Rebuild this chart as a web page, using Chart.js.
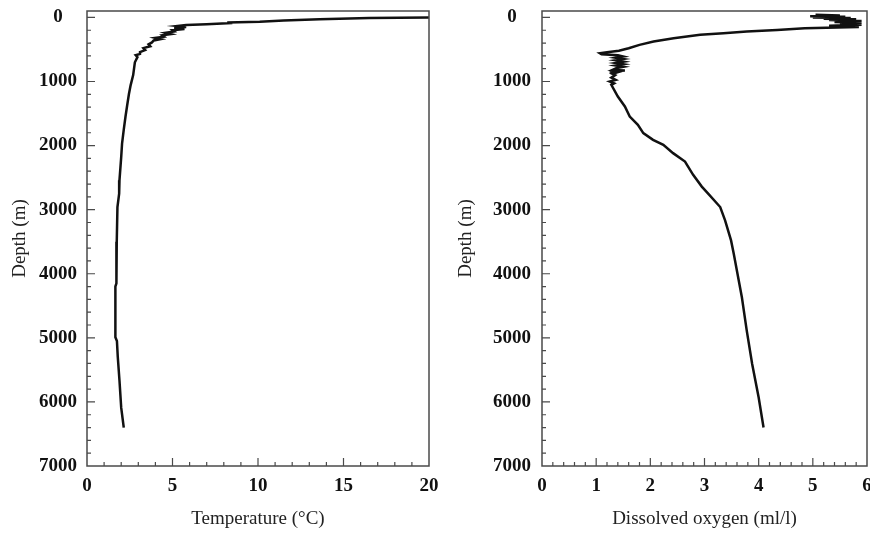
<!DOCTYPE html>
<html>
<head>
<meta charset="utf-8">
<script src="https://cdn.jsdelivr.net/npm/chart.js@4"></script>
<style>
  html, body { margin: 0; padding: 0; background: #fff; }
  #wrap { position: relative; width: 870px; height: 533px; }
  .panel { position: absolute; top: 0; }
</style>
</head>
<body>
<div id="wrap">
  <canvas id="temp-chart" class="panel" width="440" height="533" style="left:0"></canvas>
  <canvas id="oxy-chart" class="panel" width="430" height="533" style="left:440px"></canvas>
</div>
<script>
// === data ===
const depthTicks = [0, 1000, 2000, 3000, 4000, 5000, 6000, 7000];
const tempTicks = [0, 5, 10, 15, 20];
const oxyTicks = [0, 1, 2, 3, 4, 5, 6];

// temperature profile (m, °C)
const tempDepth = [0, 10, 27, 48, 69, 80, 89, 105, 120, 135, 150, 165, 180, 200, 220, 240, 260, 280, 300, 320,
  340, 360, 390, 420, 450, 480, 510, 540, 570, 590, 620, 700, 900, 1060, 1200, 1370, 1550, 1750, 1970, 2180,
  2540, 2750, 2960, 3500, 4150, 4200, 4990, 5050, 5300, 5670, 6090, 6400];
const tempValues = [20.0, 16.5, 13.6, 11.5, 10.1, 8.2, 8.5, 7.0, 5.8, 5.3, 5.8, 5.1, 5.7, 5.0, 5.1, 4.6, 4.9, 4.4, 4.5, 4.0,
  4.3, 3.9, 3.8, 3.6, 3.7, 3.3, 3.4, 3.1, 3.1, 2.85, 2.95, 2.8, 2.7, 2.55, 2.45, 2.35, 2.25, 2.15, 2.05, 2.0,
  1.9, 1.88, 1.78, 1.74, 1.72, 1.66, 1.66, 1.75, 1.8, 1.9, 2.0, 2.15];

// dissolved oxygen profile (m, ml/l)
const oxyDepth = [-40, -30, -20, -10, 0, 10, 20, 30, 40, 55, 70, 85, 100, 115, 130, 150, 170, 195, 220, 246,
  272, 324, 376, 429, 481, 520, 545, 560, 575, 590, 610, 630, 650, 670, 690, 710, 730, 750, 770, 790,
  820, 830, 845, 860, 880, 900, 940, 975, 1000, 1030, 1052, 1235, 1390, 1547, 1677, 1806, 1911, 1989, 2118, 2249,
  2457, 2640, 2760, 2959, 3167, 3480, 3689, 4368, 4888, 5409, 5931, 6400];
const oxyValues = [5.05, 5.5, 4.95, 5.6, 5.0, 5.7, 5.2, 5.8, 5.3, 5.9, 5.4, 5.9, 5.5, 5.9, 5.3, 5.85, 4.85, 4.34, 3.78, 3.35,
  2.92, 2.43, 2.06, 1.8, 1.6, 1.42, 1.2, 1.07, 1.1, 1.4, 1.5, 1.36, 1.5, 1.36, 1.5, 1.36, 1.5, 1.36, 1.5, 1.38,
  1.3, 1.53, 1.25, 1.38, 1.3, 1.35, 1.28, 1.36, 1.25, 1.33, 1.28, 1.40, 1.53, 1.62, 1.77, 1.87, 2.05, 2.24, 2.42, 2.64,
  2.79, 2.95, 3.08, 3.29, 3.38, 3.49, 3.54, 3.69, 3.78, 3.88, 4.0, 4.09];

const SERIF = '"Liberation Serif", "Times New Roman", serif';
const INK = '#111';
const FRAME = '#4a4a4a';

// box round the plot plus inward ticks (major and minor)
const framePlugin = {
  id: 'frame',
  afterDraw(chart, args, opts) {
    const { ctx, chartArea: a, scales: { x, y } } = chart;
    ctx.save();
    ctx.strokeStyle = FRAME;
    ctx.lineWidth = 1.5;
    ctx.strokeRect(a.left, a.top, a.right - a.left, a.bottom - a.top);
    ctx.lineWidth = 1.2;
    ctx.beginPath();
    const nx = Math.round((x.max - x.min) / opts.xMinor);
    for (let i = 1; i < nx; i++) {
      const v = x.min + i * opts.xMinor;
      const px = x.getPixelForValue(v);
      const major = Math.abs(v / opts.xMajor - Math.round(v / opts.xMajor)) < 1e-6;
      ctx.moveTo(px, a.bottom);
      ctx.lineTo(px, a.bottom - (major ? 8 : 4));
    }
    for (let v = 0; v < 7000; v += 200) {
      const py = y.getPixelForValue(v);
      ctx.moveTo(a.left, py);
      ctx.lineTo(a.left + (v % 1000 === 0 ? 8 : 4), py);
    }
    ctx.stroke();
    ctx.restore();
  }
};

function makeProfile(id, xs, ys, xTicks, xTitle, opts) {
  const pts = ys.map((d, i) => ({ x: xs[i], y: d }));
  return new Chart(document.getElementById(id), {
    type: 'scatter',
    data: {
      datasets: [{
        data: pts,
        showLine: true,
        borderColor: INK,
        borderWidth: 2.5,
        pointRadius: 0,
        tension: 0
      }]
    },
    plugins: [framePlugin],
    options: {
      responsive: false,
      animation: false,
      layout: { padding: { top: 11, right: opts.padRight, bottom: 0, left: 0 } },
      plugins: {
        legend: { display: false },
        tooltip: { enabled: false },
        frame: { xMinor: opts.xMinor, xMajor: opts.xMajor }
      },
      scales: {
        x: {
          type: 'linear',
          min: xTicks[0],
          max: xTicks[xTicks.length - 1],
          afterBuildTicks: s => { s.ticks = xTicks.map(v => ({ value: v })); },
          afterFit: s => { s.height = 67; s.paddingLeft = 0; s.paddingRight = 0; },
          grid: { display: false, drawTicks: false },
          border: { display: false },
          ticks: {
            color: '#111',
            padding: 9,
            callback: v => String(v),
            font: { family: SERIF, size: 19, weight: 'bold' }
          },
          title: {
            display: true,
            text: xTitle,
            color: '#222',
            padding: { top: 0, bottom: 3 },
            font: { family: SERIF, size: 19 }
          }
        },
        y: {
          type: 'linear',
          reverse: true,
          min: -100,
          max: 7000,
          afterBuildTicks: s => { s.ticks = depthTicks.map(v => ({ value: v })); },
          afterFit: s => { s.width = opts.yWidth; s.paddingTop = 0; s.paddingBottom = 0; },
          grid: { display: false, drawTicks: false },
          border: { display: false },
          ticks: {
            color: '#111',
            padding: opts.yPad,
            crossAlign: 'center',
            callback: v => String(v),
            font: { family: SERIF, size: 19, weight: 'bold' }
          },
          title: {
            display: true,
            text: 'Depth (m)',
            color: '#222',
            padding: { top: opts.yTitlePad, bottom: 0 },
            font: { family: SERIF, size: 19 }
          }
        }
      }
    }
  });
}

makeProfile('temp-chart', tempValues, tempDepth, tempTicks, 'Temperature (°C)',
  { padRight: 11, yWidth: 87, yPad: 10, yTitlePad: 9, xMinor: 1, xMajor: 5 });
makeProfile('oxy-chart', oxyValues, oxyDepth, oxyTicks, 'Dissolved oxygen (ml/l)',
  { padRight: 3, yWidth: 102, yPad: 11, yTitlePad: 15, xMinor: 0.2, xMajor: 1 });
</script>
</body>
</html>
